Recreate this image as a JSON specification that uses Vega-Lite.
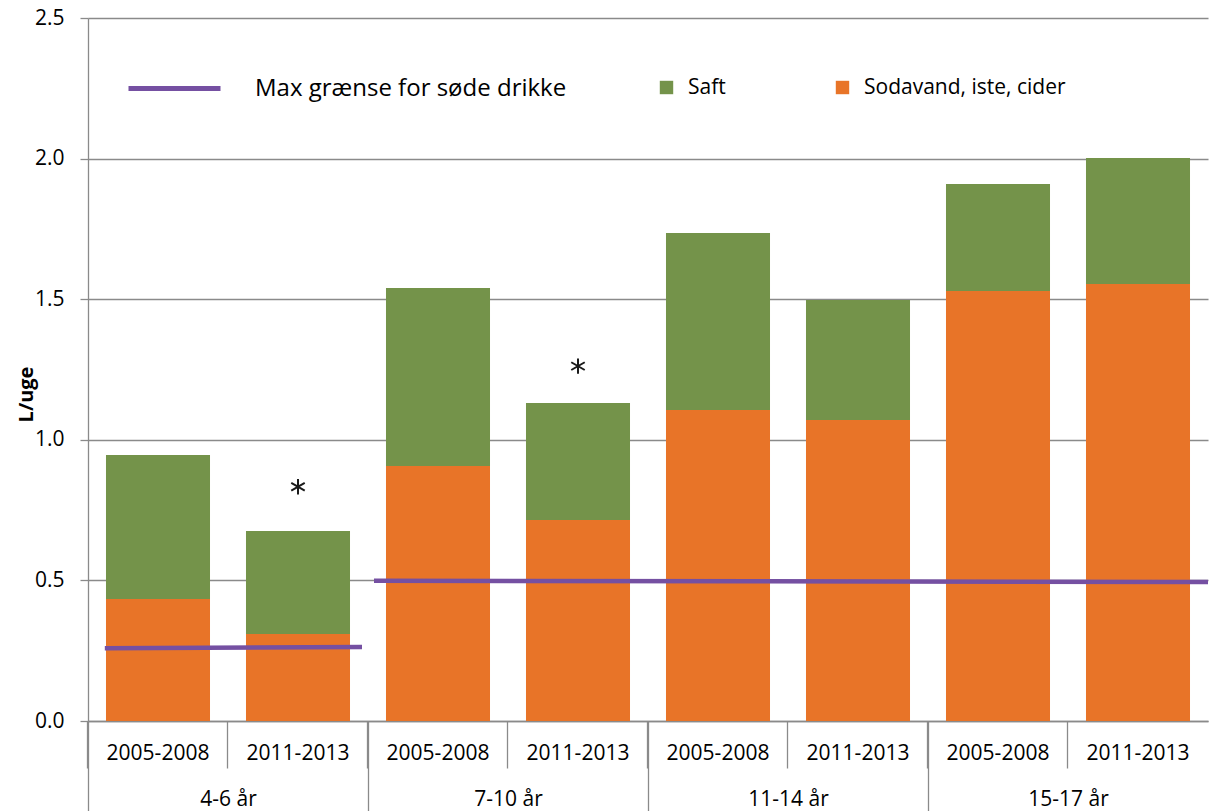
{
  "$schema": "https://vega.github.io/schema/vega-lite/v6.json",
  "width": 1120,
  "height": 703,
  "autosize": {"type": "none"},
  "padding": {"left": 88, "top": 18, "right": 2, "bottom": 90},
  "background": "white",
  "config": {
    "font": "Open Sans",
    "view": {"stroke": null},
    "axis": {"labelColor": "#000000", "labelFont": "Open Sans", "titleColor": "#000000"},
    "legend": {"labelColor": "#000000", "labelFont": "Open Sans", "labelLimit": 500}
  },
  "datasets": {
    "drinks": [
      {"slot": "4-6 år|2005-2008", "kind": "Sodavand, iste, cider", "value": 0.434},
      {"slot": "4-6 år|2005-2008", "kind": "Saft", "value": 0.512},
      {"slot": "4-6 år|2011-2013", "kind": "Sodavand, iste, cider", "value": 0.309},
      {"slot": "4-6 år|2011-2013", "kind": "Saft", "value": 0.367},
      {"slot": "7-10 år|2005-2008", "kind": "Sodavand, iste, cider", "value": 0.907},
      {"slot": "7-10 år|2005-2008", "kind": "Saft", "value": 0.633},
      {"slot": "7-10 år|2011-2013", "kind": "Sodavand, iste, cider", "value": 0.715},
      {"slot": "7-10 år|2011-2013", "kind": "Saft", "value": 0.416},
      {"slot": "11-14 år|2005-2008", "kind": "Sodavand, iste, cider", "value": 1.106},
      {"slot": "11-14 år|2005-2008", "kind": "Saft", "value": 0.629},
      {"slot": "11-14 år|2011-2013", "kind": "Sodavand, iste, cider", "value": 1.070},
      {"slot": "11-14 år|2011-2013", "kind": "Saft", "value": 0.427},
      {"slot": "15-17 år|2005-2008", "kind": "Sodavand, iste, cider", "value": 1.529},
      {"slot": "15-17 år|2005-2008", "kind": "Saft", "value": 0.381},
      {"slot": "15-17 år|2011-2013", "kind": "Sodavand, iste, cider", "value": 1.554},
      {"slot": "15-17 år|2011-2013", "kind": "Saft", "value": 0.448}
    ],
    "significant": [
      {"slot": "4-6 år|2011-2013", "value": 0.833},
      {"slot": "7-10 år|2011-2013", "value": 1.262}
    ],
    "limit": [
      {"series": "Max grænse for søde drikke", "segment": "4-6 år", "pos": 0.12, "value": 0.259},
      {"series": "Max grænse for søde drikke", "segment": "4-6 år", "pos": 1.957, "value": 0.263},
      {"series": "Max grænse for søde drikke", "segment": "7-17 år", "pos": 2.043, "value": 0.499},
      {"series": "Max grænse for søde drikke", "segment": "7-17 år", "pos": 8.0, "value": 0.494}
    ]
  },
  "resolve": {"scale": {"x": "independent"}, "axis": {"x": "independent"}},
  "layer": [
    {
      "encoding": {
        "x": {
          "field": "slot",
          "type": "nominal",
          "sort": null,
          "scale": {
            "domain": ["4-6 år|2005-2008", "4-6 år|2011-2013", "7-10 år|2005-2008", "7-10 år|2011-2013", "11-14 år|2005-2008", "11-14 år|2011-2013", "15-17 år|2005-2008", "15-17 år|2011-2013"],
            "paddingInner": 0.257,
            "paddingOuter": 0.1285
          },
          "axis": {
            "title": null,
            "orient": "bottom",
            "labelExpr": "split(datum.label, '|')[1]",
            "labelAngle": 0,
            "labelFontSize": 21,
            "labelBaseline": "top",
            "bandPosition": -0.173,
            "tickSize": 47,
            "labelPadding": -26,
            "tickColor": "#8a8a8a",
            "domainColor": "#8a8a8a",
            "tickWidth": 1.3,
            "domainWidth": 1.3
          }
        }
      },
      "layer": [
        {
          "data": {"name": "drinks"},
          "mark": {"type": "bar"},
          "encoding": {
            "y": {
              "field": "value",
              "type": "quantitative",
              "stack": "zero",
              "scale": {"domain": [0, 2.5], "nice": false},
              "axis": {
                "title": "L/uge",
                "titleFontWeight": "bold",
                "titleFontSize": 20,
                "titleY": 376,
                "titlePadding": -2,
                "values": [0, 0.5, 1, 1.5, 2, 2.5],
                "format": ".1f",
                "labelFontSize": 21,
                "tickSize": 8,
                "labelPadding": 16,
                "tickColor": "#8a8a8a",
                "domainColor": "#8a8a8a",
                "gridColor": "#8a8a8a",
                "tickWidth": 1.3,
                "domainWidth": 1.3,
                "gridWidth": 1.3
              }
            },
            "fill": {
              "field": "kind",
              "type": "nominal",
              "scale": {"domain": ["Saft", "Sodavand, iste, cider"], "range": ["#74934A", "#E87428"]},
              "legend": {
                "title": null,
                "orient": "none",
                "legendX": 568,
                "legendY": 59,
                "direction": "horizontal",
                "columns": 2,
                "gridAlign": "none",
                "columnPadding": 106,
                "symbolType": "square",
                "symbolSize": 180,
                "symbolStrokeWidth": 0,
                "labelFontSize": 21,
                "labelOffset": 11
              }
            },
            "order": {"field": "kind", "sort": "descending"}
          }
        },
        {
          "data": {"name": "significant"},
          "mark": {
            "type": "point",
            "shape": "M0,-1L0,1M-0.87,-0.5L0.87,0.5M-0.87,0.5L0.87,-0.5",
            "filled": false,
            "stroke": "#1a1a1a",
            "strokeWidth": 2,
            "size": 240,
            "opacity": 1
          },
          "encoding": {
            "y": {"field": "value", "type": "quantitative"}
          }
        }
      ]
    },
    {
      "data": {"name": "limit"},
      "mark": {"type": "line", "strokeWidth": 4.5},
      "encoding": {
        "x": {
          "field": "pos",
          "type": "quantitative",
          "scale": {"domain": [0, 8], "nice": false, "zero": false},
          "axis": {
            "title": null,
            "orient": "bottom",
            "values": [0, 2, 4, 6],
            "labelExpr": "datum.value == 0 ? '4-6 år' : datum.value == 2 ? '7-10 år' : datum.value == 4 ? '11-14 år' : '15-17 år'",
            "labelFlush": false,
            "labelOverlap": false,
            "labelOffset": 140,
            "labelFontSize": 21,
            "labelBaseline": "top",
            "tickSize": 90,
            "labelPadding": -23,
            "tickColor": "#8a8a8a",
            "tickWidth": 1.3,
            "domain": false,
            "grid": false
          }
        },
        "y": {"field": "value", "type": "quantitative"},
        "detail": {"field": "segment"},
        "stroke": {
          "field": "series",
          "type": "nominal",
          "scale": {"domain": ["Max grænse for søde drikke"], "range": ["#7550A2"]},
          "legend": {
            "title": null,
            "orient": "none",
            "legendX": 38,
            "legendY": 22,
            "symbolType": "stroke",
            "symbolSize": 8464,
            "symbolStrokeWidth": 5,
            "labelFontSize": 24,
            "labelOffset": 32
          }
        }
      }
    }
  ]
}
